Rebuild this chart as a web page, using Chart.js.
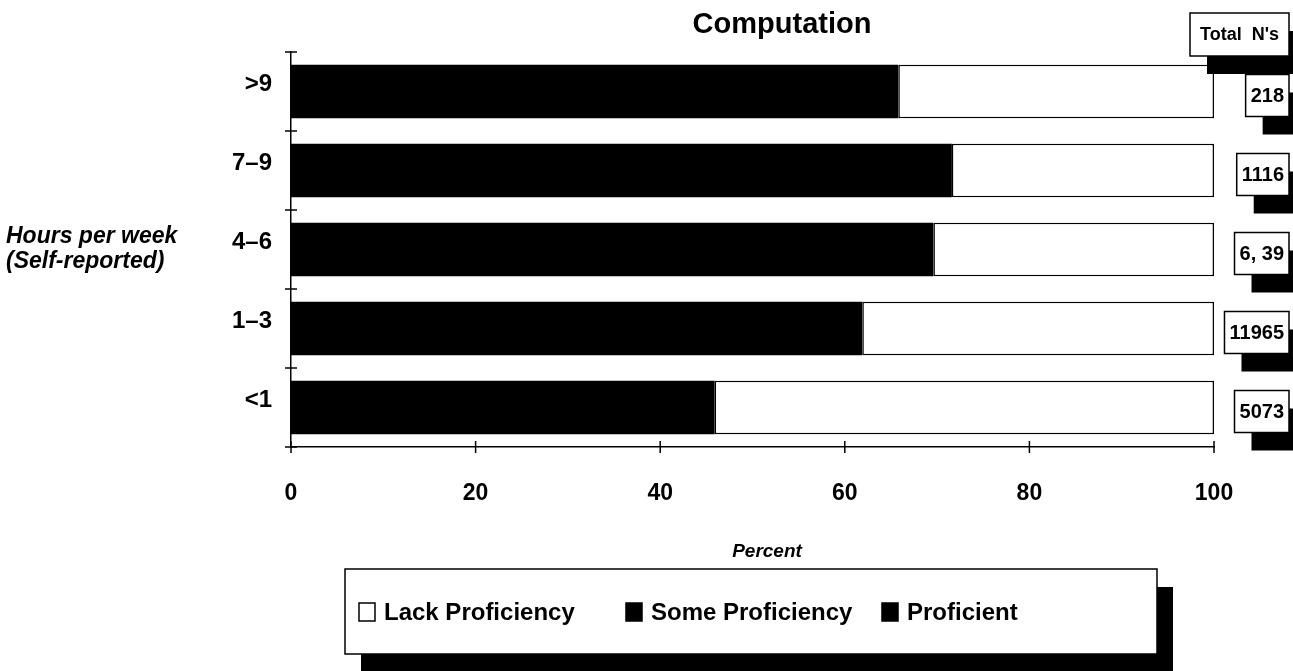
<!DOCTYPE html>
<html>
<head>
<meta charset="utf-8">
<script src="https://cdn.jsdelivr.net/npm/chart.js@4.4.1/dist/chart.umd.min.js"></script>
<style>
  html, body { margin: 0; padding: 0; background: #fff; }
  #wrap { width: 1293px; height: 671px; position: relative; }
</style>
</head>
<body>
<div id="wrap"><canvas id="c" width="1293" height="671"></canvas></div>
<script>
// Hours of mathematics homework per week (self-reported)
const categories = ['>9', '7–9', '4–6', '1–3', '<1'];
// Some Proficiency and Proficient are both filled solid black, so their
// combined length is kept in one series; the split is not shown.
const someOrAbove = [65.8, 71.6, 69.6, 61.9, 45.9];
const proficient = [null, null, null, null, null];
const lackProficiency = [34.2, 28.4, 30.4, 38.1, 54.1];
const totalNs = ['218', '1116', '6, 39', '11965', '5073'];
const xTicks = [0, 20, 40, 60, 80, 100];
const legendOrder = ['Lack Proficiency', 'Some Proficiency', 'Proficient'];

const FAM = "'Liberation Sans', Arial, Helvetica, sans-serif";

function shadowBox(ctx, x, y, w, h, dx, dy) {
  ctx.fillStyle = '#000';
  ctx.fillRect(x + dx, y + dy, w, h);
  ctx.fillStyle = '#fff';
  ctx.fillRect(x, y, w, h);
  ctx.strokeStyle = '#000';
  ctx.lineWidth = 1.5;
  ctx.strokeRect(x, y, w, h);
}

const decor = {
  id: 'decor',
  afterDraw(chart) {
    const ctx = chart.ctx;
    const xs = chart.scales.x, ys = chart.scales.y;
    const area = chart.chartArea;
    ctx.save();
    ctx.strokeStyle = '#000';
    ctx.lineWidth = 1.5;

    // tick crosses on the value axis
    xTicks.forEach(v => {
      const px = xs.getPixelForValue(v);
      ctx.beginPath();
      ctx.moveTo(px, area.bottom - 6);
      ctx.lineTo(px, area.bottom + 6);
      ctx.stroke();
    });
    // tick crosses between categories
    for (let i = 0; i <= categories.length; i++) {
      const py = ys.getPixelForValue(i - 0.5);
      ctx.beginPath();
      ctx.moveTo(area.left - 6, py);
      ctx.lineTo(area.left + 6, py);
      ctx.stroke();
    }

    // title
    ctx.fillStyle = '#000';
    ctx.textAlign = 'center';
    ctx.textBaseline = 'middle';
    ctx.font = `bold 29px ${FAM}`;
    ctx.fillText('Computation', 782, 25);

    // category axis title
    ctx.textAlign = 'left';
    ctx.font = `italic bold 23px ${FAM}`;
    ctx.fillText('Hours per week', 6, 237);
    ctx.fillText('(Self-reported)', 6, 262);

    // value axis title
    ctx.textAlign = 'center';
    ctx.font = `italic bold 19px ${FAM}`;
    ctx.fillText('Percent', 767, 552);

    // Total N's header and one box per category
    const right = 1289;
    ctx.font = `bold 18px ${FAM}`;
    {
      const w = 99, h = 43, x = right - w, y = 13;
      shadowBox(ctx, x, y, w, h, 17, 18);
      ctx.fillStyle = '#000';
      ctx.textAlign = 'center';
      ctx.fillText("Total  N's", x + w / 2, y + h / 2 + 1);
    }
    ctx.font = `bold 20px ${FAM}`;
    totalNs.forEach((n, i) => {
      const cy = ys.getPixelForValue(i) + 4;
      const tw = ctx.measureText(n).width;
      const w = tw + 10, h = 42, x = right - w, y = cy - h / 2;
      shadowBox(ctx, x, y, w, h, 17, 18);
      ctx.fillStyle = '#000';
      ctx.textAlign = 'center';
      ctx.fillText(n, x + w / 2, cy + 1);
    });

    // legend box
    shadowBox(ctx, 345, 569, 812, 85, 16, 18);
    const ds = chart.data.datasets;
    const items = legendOrder.map(l => ds.find(d => d.label === l));
    const xsItem = [359, 626, 882];
    ctx.font = `bold 24px ${FAM}`;
    ctx.textAlign = 'left';
    items.forEach((d, k) => {
      const bx = xsItem[k], by = 603;
      ctx.fillStyle = d.backgroundColor;
      ctx.fillRect(bx, by, 16, 18);
      ctx.strokeStyle = '#000';
      ctx.lineWidth = 1.5;
      ctx.strokeRect(bx, by, 16, 18);
      ctx.fillStyle = '#000';
      ctx.fillText(d.label, bx + 25, by + 10);
    });
    ctx.restore();
  }
};

const barOpts = { barPercentage: 0.68, categoryPercentage: 1 };

new Chart(document.getElementById('c').getContext('2d'), {
  type: 'bar',
  data: {
    labels: categories,
    datasets: [
      Object.assign({ label: 'Some Proficiency', data: someOrAbove, backgroundColor: '#000', borderWidth: 0 }, barOpts),
      Object.assign({ label: 'Proficient', data: proficient, backgroundColor: '#000', borderWidth: 0 }, barOpts),
      Object.assign({ label: 'Lack Proficiency', data: lackProficiency, backgroundColor: '#fff', borderColor: '#000', borderWidth: 1.5, borderSkipped: false }, barOpts)
    ]
  },
  options: {
    indexAxis: 'y',
    responsive: false,
    animation: false,
    layout: { padding: { left: 0, top: 52, right: 79, bottom: 164 } },
    plugins: { legend: { display: false }, tooltip: { enabled: false }, title: { display: false } },
    scales: {
      x: {
        stacked: true, min: 0, max: 100,
        afterBuildTicks: s => { s.ticks = xTicks.map(v => ({ value: v })); },
        grid: { display: false, drawTicks: false },
        border: { display: true, color: '#000', width: 1.5 },
        ticks: { color: '#000', font: { family: FAM, size: 23, weight: 'bold' }, padding: 33, maxRotation: 0 },
        afterFit: s => { s.height = 60; }
      },
      y: {
        stacked: true,
        grid: { display: false, drawTicks: false },
        border: { display: true, color: '#000', width: 1.5 },
        ticks: { color: '#000', font: { family: FAM, size: 24, weight: 'bold' }, padding: 19, labelOffset: -7 },
        afterFit: s => { s.width = 291; }
      }
    }
  },
  plugins: [decor]
});
</script>
</body>
</html>
